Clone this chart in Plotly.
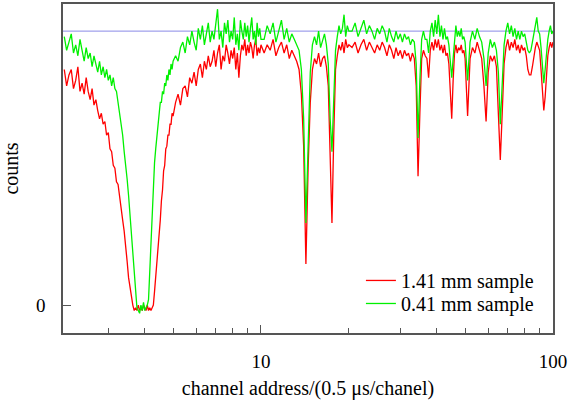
import plotly.graph_objects as go

# channel address (0.5 us / channel)
channel = [
    2.12, 2.16, 2.20, 2.24, 2.28, 2.32, 2.36, 2.40, 2.44, 2.48,
    2.52, 2.56, 2.60, 2.64, 2.68, 2.72, 2.76, 2.80, 2.84, 2.88,
    2.92, 2.96, 3.00, 3.04, 3.08, 3.12, 3.16, 3.20, 3.24, 3.28,
    3.32, 3.36, 3.40, 3.44, 3.48, 3.52, 3.56, 3.60, 3.64, 3.68,
    3.72, 3.76, 3.80, 3.84, 3.88, 3.92, 3.96, 4.00, 4.04, 4.08,
    4.12, 4.16, 4.20, 4.24, 4.28, 4.32, 4.36, 4.40, 4.44, 4.48,
    4.52, 4.56, 4.60, 4.64, 4.68, 4.72, 4.76, 4.80, 4.84, 4.88,
    4.92, 4.96, 5.00,
    5.1, 5.2, 5.3, 5.4, 5.5, 5.6, 5.7, 5.8, 5.9, 6.0,
    6.1, 6.2, 6.3, 6.4, 6.5, 6.6, 6.7, 6.8, 6.9, 7.0,
    7.1, 7.2, 7.3, 7.4, 7.5, 7.6, 7.7, 7.8, 7.9, 8.0,
    8.1, 8.2, 8.3, 8.4, 8.5, 8.6, 8.7, 8.8, 8.9, 9.0,
    9.1, 9.2, 9.3, 9.4, 9.5, 9.6, 9.7, 9.8, 9.9, 10.0,
    10.25, 10.5, 10.75, 11.0, 11.25, 11.5, 11.75, 12.0, 12.25, 12.5,
    12.75, 13.0, 13.25, 13.5, 13.75, 14.0, 14.25, 14.5, 14.75, 15.0,
    15.25, 15.5, 15.75, 16.0, 16.25, 16.5, 16.75, 17.0, 17.25, 17.5,
    17.75, 18.0, 18.25, 18.5, 18.75, 19.0, 19.25, 19.5, 19.75, 20.0,
    20.5, 21.0, 21.5, 22.0, 22.5, 23.0, 23.5, 24.0, 24.5, 25.0,
    25.5, 26.0, 26.5, 27.0, 27.5, 28.0, 28.5, 29.0, 29.5, 30.0,
    30.5, 31.0, 31.5, 32.0, 32.5, 33.0, 33.5, 34.0, 34.5, 35.0,
    35.5, 36.0, 36.5, 37.0, 37.5, 38.0, 38.5, 39.0, 39.5, 40.0,
    40.5, 41.0, 41.5, 42.0, 42.5, 43.0, 43.5, 44.0, 44.5, 45.0,
    45.5, 46.0, 46.5, 47.0, 47.5, 48.0, 48.5, 49.0, 49.5, 50.0,
    51, 52, 53, 54, 55, 56, 57, 58, 59, 60,
    61, 62, 63, 64, 65, 66, 67, 68, 69, 70,
    71, 72, 73, 74, 75, 76, 77, 78, 79, 80,
    81, 82, 83, 84, 85, 86, 87, 88, 89, 90,
    91, 92, 93, 94, 95, 96, 97, 98, 99, 100,
]

# normalised counts, 1.41 mm sample (red)
counts_141mm = [
    0.86, 0.80, 0.84, 0.86, 0.79, 0.82, 0.87, 0.78, 0.81, 0.77,
    0.83, 0.78, 0.75, 0.79, 0.73, 0.75, 0.71, 0.68, 0.70, 0.66,
    0.67, 0.62, 0.63, 0.57, 0.56, 0.51, 0.50, 0.45, 0.44, 0.39,
    0.36, 0.31, 0.27, 0.20, 0.16, 0.10, 0.06, 0.02, 0.00, -0.02,
    -0.01, -0.02, 0.00, -0.02, -0.01, -0.02, 0.00, -0.01, -0.02, 0.00,
    -0.02, -0.01, -0.02, -0.01, 0.00, 0.05, 0.10, 0.16, 0.21, 0.27,
    0.31, 0.38, 0.42, 0.49, 0.51, 0.57, 0.58, 0.62, 0.62, 0.66,
    0.66, 0.70, 0.69,
    0.74, 0.77, 0.73, 0.79, 0.80, 0.76, 0.83, 0.81, 0.85, 0.80,
    0.86, 0.88, 0.83, 0.89, 0.86, 0.91, 0.87, 0.89, 0.93, 0.87,
    0.92, 0.95, 0.86, 0.91, 0.89, 0.95, 0.92, 0.88, 0.93, 0.90,
    0.94, 0.86, 0.92, 0.83, 0.91, 0.95, 0.93, 0.97, 0.91, 0.95,
    0.92, 0.96, 0.94, 0.90, 0.95, 0.97, 0.91, 0.94, 0.92, 0.95,
    0.92, 0.95, 0.93, 0.97, 0.91, 0.94, 0.96, 0.92, 0.95, 0.90,
    0.93, 0.91, 0.89, 0.86, 0.77, 0.58, 0.15, 0.50, 0.74, 0.86,
    0.90, 0.88, 0.92, 0.87, 0.90, 0.91, 0.87, 0.80, 0.52, 0.30,
    0.62, 0.86, 0.91, 0.95, 0.93, 0.96, 0.92, 0.97, 0.94, 0.95,
    0.94, 0.96, 0.92, 0.95, 0.97, 0.93, 0.96, 0.94, 0.92, 0.95,
    0.93, 0.96, 0.94, 0.91, 0.95, 0.93, 0.90, 0.94, 0.91, 0.93,
    0.90, 0.93, 0.91, 0.92, 0.89, 0.92, 0.90, 0.80, 0.47, 0.70,
    0.90, 0.93, 0.91, 0.90, 0.83, 0.93, 0.96, 0.93, 0.97, 0.94,
    0.97, 0.93, 0.95, 0.92, 0.95, 0.91, 0.92, 0.88, 0.80, 0.68,
    0.82, 0.92, 0.95, 0.92, 0.94, 0.93, 0.95, 0.92, 0.93, 0.90,
    0.69, 0.90, 0.94, 0.92, 0.96, 0.93, 0.90, 0.80, 0.67, 0.85,
    0.91, 0.89, 0.91, 0.87, 0.72, 0.53, 0.70, 0.88, 0.94, 0.97,
    0.93, 0.96, 0.94, 0.97, 0.93, 0.95, 0.92, 0.95, 0.93, 0.94,
    0.91, 0.86, 0.84, 0.84, 0.87, 0.91, 0.94, 0.96, 0.94, 0.93,
    0.86, 0.76, 0.71, 0.76, 0.85, 0.91, 0.94, 0.96, 0.94, 0.96,
]

# normalised counts, 0.41 mm sample (green)
counts_041mm = [
    0.98, 0.93, 0.96, 0.99, 0.92, 0.95, 0.91, 0.97, 0.93, 0.89,
    0.94, 0.90, 0.92, 0.87, 0.91, 0.88, 0.85, 0.89, 0.84, 0.87,
    0.83, 0.86, 0.82, 0.84, 0.80, 0.83, 0.79, 0.78, 0.74, 0.71,
    0.66, 0.62, 0.56, 0.52, 0.46, 0.40, 0.33, 0.25, 0.18, 0.10,
    0.03, -0.01, -0.02, -0.03, 0.00, -0.02, 0.01, -0.02, -0.01, 0.00,
    0.02, 0.12, 0.25, 0.36, 0.45, 0.52, 0.57, 0.62, 0.66, 0.69,
    0.74, 0.74, 0.78, 0.77, 0.81, 0.80, 0.84, 0.82, 0.86, 0.84,
    0.88, 0.86, 0.89,
    0.91, 0.89, 0.94, 0.96, 0.92, 0.98, 0.95, 1.00, 0.96, 0.93,
    1.01, 0.97, 1.02, 0.95, 0.99, 1.03, 0.96, 1.00, 0.97, 1.02,
    1.08, 0.97, 1.00, 0.94, 1.03, 0.99, 1.04, 0.96, 1.00, 0.97,
    1.05, 0.95, 0.99, 0.93, 1.04, 1.00, 0.97, 1.03, 0.98, 1.02,
    0.96, 1.01, 1.05, 0.97, 1.00, 0.95, 1.03, 0.98, 1.01, 0.97,
    0.97, 1.02, 0.99, 1.03, 0.96, 1.00, 1.04, 0.97, 1.01, 0.96,
    0.99, 0.97, 0.95, 0.93, 0.86, 0.68, 0.30, 0.62, 0.85, 0.95,
    0.98, 0.95, 1.00, 0.94, 0.97, 0.99, 0.95, 0.88, 0.68, 0.56,
    0.75, 0.93, 0.98, 1.02, 0.99, 1.01, 1.06, 0.98, 1.02, 1.00,
    1.00, 1.03, 0.98, 1.01, 1.04, 0.99, 1.02, 1.00, 0.97, 1.01,
    0.99, 1.02, 1.00, 0.96, 1.01, 0.98, 0.96, 1.00, 0.97, 0.99,
    0.96, 0.99, 0.97, 0.98, 0.95, 0.97, 0.96, 0.88, 0.61, 0.82,
    0.97, 1.00, 0.97, 0.97, 0.92, 1.00, 1.03, 0.98, 1.04, 0.99,
    1.06, 0.98, 1.02, 0.97, 1.01, 0.97, 0.98, 0.95, 0.90, 0.83,
    0.90, 0.98, 1.02, 0.98, 1.00, 0.98, 1.01, 0.97, 0.98, 0.96,
    0.82, 0.96, 1.00, 0.97, 1.01, 0.98, 0.96, 0.90, 0.80, 0.92,
    0.97, 0.94, 0.96, 0.93, 0.85, 0.66, 0.82, 0.95, 1.00, 1.03,
    0.99, 1.02, 0.98, 1.01, 0.97, 1.00, 0.97, 1.00, 0.98, 0.99,
    0.96, 0.93, 0.92, 0.93, 0.96, 0.99, 1.02, 1.05, 1.00, 0.99,
    0.94, 0.86, 0.81, 0.86, 0.93, 0.97, 1.00, 1.02, 0.99, 1.00,
]

baseline_level = 1.0
series_names = ["1.41 mm sample", "0.41 mm sample"]
x_tick_vals = [10, 100]
x_tick_text = ["10", "100"]
x_minor_vals = [3, 4, 5, 6, 7, 8, 9, 20, 30, 40, 50, 60, 70, 80, 90]
y_tick_vals = [0]
y_tick_text = ["0"]

assert len(channel) == len(counts_141mm) == len(counts_041mm)

FONT = "Liberation Serif"
AXC = "#555555"

fig = go.Figure()
fig.add_shape(type="line", xref="paper", x0=0, x1=1, yref="y",
              y0=baseline_level, y1=baseline_level,
              line=dict(color="#8a8ae6", width=1), layer="below")
fig.add_trace(go.Scatter(x=channel, y=counts_141mm, mode="lines",
                         name=series_names[0], legend="legend",
                         line=dict(color="#ff0000", width=1.3)))
fig.add_trace(go.Scatter(x=channel, y=counts_041mm, mode="lines",
                         name=series_names[1], legend="legend2",
                         line=dict(color="#00f000", width=1.3)))

leg_common = dict(xanchor="left", yanchor="top", bgcolor="rgba(0,0,0,0)",
                  borderwidth=0, font=dict(family=FONT, size=20))
fig.update_layout(
    width=571, height=402,
    margin=dict(l=63, r=18, t=4, b=69),
    paper_bgcolor="white", plot_bgcolor="white",
    font=dict(family=FONT, size=20, color="black"),
    showlegend=True,
    legend=dict(x=0.608, y=0.219, **leg_common),
    legend2=dict(x=0.608, y=0.149, **leg_common),
)
fig.update_xaxes(
    type="log", range=[0.322, 2.0], autorange=False,
    tickmode="array", tickvals=x_tick_vals, ticktext=x_tick_text,
    ticks="inside", ticklen=8, tickwidth=1, tickcolor=AXC,
    ticklabelstandoff=10,
    minor=dict(tickmode="array", tickvals=x_minor_vals, ticks="inside",
               ticklen=5, tickwidth=1, tickcolor=AXC, showgrid=False),
    showline=True, linecolor=AXC, linewidth=1.5, mirror=True,
    showgrid=False, zeroline=False,
    tickfont=dict(family=FONT, size=19),
    title=dict(text="channel address/(0.5 μs/chanel)", standoff=10,
               font=dict(family=FONT, size=20)),
    automargin=False,
)
fig.update_yaxes(
    range=[-0.102, 1.099], autorange=False,
    tickmode="array", tickvals=y_tick_vals, ticktext=y_tick_text,
    ticks="inside", ticklen=8, tickwidth=1, tickcolor=AXC,
    ticklabelstandoff=12,
    showline=True, linecolor=AXC, linewidth=1.5, mirror=True,
    showgrid=False, zeroline=False,
    tickfont=dict(family=FONT, size=19),
    title=dict(text="counts", standoff=14, font=dict(family=FONT, size=20)),
    automargin=False,
)

fig.write_html("out.html", config={"displayModeBar": False},
               post_script="document.body.style.margin='0px';")
